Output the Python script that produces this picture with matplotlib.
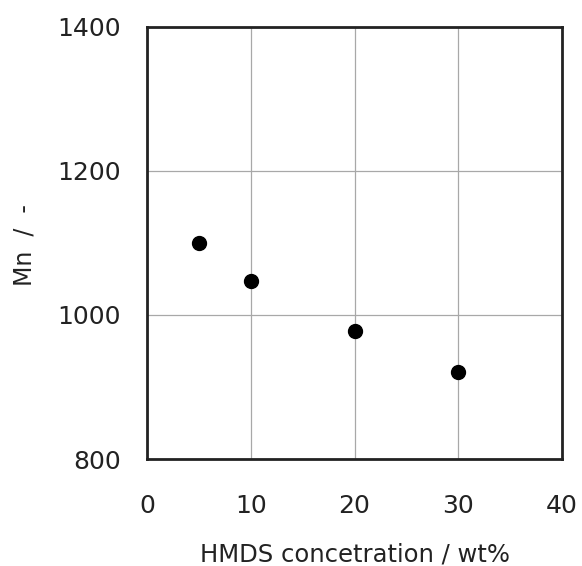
import matplotlib
matplotlib.use("Agg")
import matplotlib.pyplot as plt

conc = [5, 10, 20, 30]
mn = [1100, 1047, 978, 921]
xticks = [0, 10, 20, 30, 40]
yticks = [800, 1000, 1200, 1400]

plt.rcParams['font.family'] = ['DejaVu Sans']
fig = plt.figure(figsize=(5.82, 5.66), dpi=100)
ax = fig.add_axes([147/582, 1-459/566, (562-147)/582, (459-26.5)/566])
ax.scatter(conc, mn, s=100, color='black', zorder=3)
ax.set_xlim(0, 40)
ax.set_ylim(800, 1400)
ax.set_xticks(xticks)
ax.set_yticks(yticks)
ax.grid(True, color='#a8a8a8', linewidth=0.9)
ax.tick_params(length=0, labelsize=18, colors='#222222')
ax.tick_params(axis='x', pad=25)
ax.tick_params(axis='y', pad=19)
for s in ax.spines.values():
    s.set_linewidth(2)
    s.set_color('#222222')
ax.set_xlabel('HMDS concetration / wt%', fontsize=17.5, color='#222222')
ax.set_ylabel('Mn  /  -', fontsize=17, color='#222222')
ax.xaxis.set_label_coords(0.5, (459-554)/432.5)
ax.xaxis.label.set_verticalalignment('center')
ax.yaxis.set_label_coords((25-147)/415, (459-245)/432.5)
ax.yaxis.label.set_verticalalignment('center')
fig.savefig('out.png', dpi=100)
